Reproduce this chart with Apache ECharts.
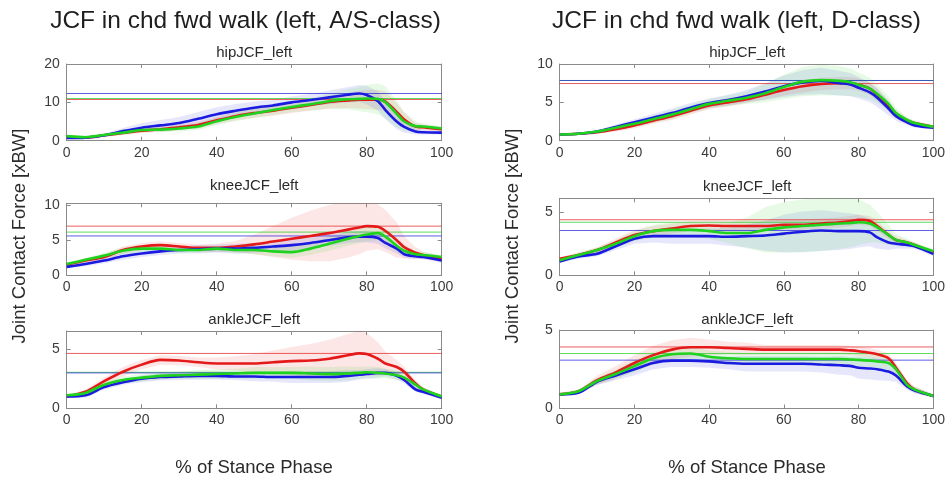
<!DOCTYPE html>
<html>
<head>
<meta charset="utf-8">
<script src="https://cdn.jsdelivr.net/npm/echarts@6/dist/echarts.min.js"></script>
<style>html,body{margin:0;padding:0;background:#fff}#c{width:948px;height:477px}</style>
</head>
<body>
<div id="c"></div>
<script>
// ---- DATA ----
const X = [0,5,10,15,20,25,30,35,40,45,50,55,60,65,70,75,78,80,83,85,88,90,93,95,100];
const xTicks = [0,20,40,60,80,100];
const mainTitles = ['JCF in chd fwd walk (left, A/S-class)', 'JCF in chd fwd walk (left, D-class)'];
const panelTitles = ['hipJCF_left','hipJCF_left','kneeJCF_left','kneeJCF_left','ankleJCF_left','ankleJCF_left'];
const xLabel = '% of Stance Phase';
const yLabel = 'Joint Contact Force [xBW]';
const yMax = [20, 10, 10.25, 6.1, 6.55, 5];
const yStep = [10, 5, 5, 5, 5, 5];

// hip, A/S-class
const hipAS_red   = [1.0,0.8,1.4,2.0,2.6,3.0,3.5,4.1,5.3,6.4,7.2,7.8,8.6,9.3,10.1,10.5,10.7,10.7,10.7,10.2,7.5,5.5,3.7,3.5,3.0];
const hipAS_green = [1.2,0.9,1.5,2.1,2.8,2.9,3.2,3.7,5.1,6.2,7.1,8.0,8.8,9.5,10.3,10.8,10.9,11.0,10.9,10.0,7.0,5.0,3.8,3.7,3.2];
const hipAS_blue  = [0.7,0.8,1.4,2.5,3.4,4.0,4.6,5.7,6.9,7.8,8.6,9.2,10.0,10.6,11.3,12.0,12.3,11.9,10.3,8.0,5.0,3.6,2.4,2.2,2.1];
const hipAS_redSD   = [0.3,0.3,0.4,0.5,0.6,0.7,0.8,0.9,1.0,1.1,1.2,1.3,1.4,1.5,1.7,2.0,2.3,2.5,2.6,2.6,2.3,1.8,1.0,0.8,0.6];
const hipAS_greenSD = [0.3,0.3,0.4,0.5,0.6,0.7,0.8,0.9,1.0,1.1,1.2,1.3,1.4,1.6,2.0,2.6,3.2,3.6,4.0,4.2,3.5,2.5,1.2,0.8,0.6];
const hipAS_blueSD  = [0.3,0.3,0.5,0.8,1.2,1.4,1.6,1.8,1.8,1.8,1.6,1.5,1.5,1.6,1.8,2.0,2.2,2.4,2.5,2.4,2.0,1.5,0.8,0.6,0.5];
const hipAS_peaks = [10.75, 11.0, 12.3]; // red, green, blue

// hip, D-class
const hipD_red   = [0.8,0.9,1.1,1.5,2.0,2.6,3.2,3.9,4.6,5.0,5.4,6.0,6.6,7.1,7.4,7.5,7.5,7.3,6.8,6.0,4.6,3.5,2.6,2.3,1.8];
const hipD_green = [0.8,0.9,1.2,1.7,2.2,2.8,3.4,4.1,4.8,5.2,5.6,6.2,7.0,7.7,7.9,7.8,7.6,7.3,6.8,6.1,4.8,3.6,2.7,2.3,1.8];
const hipD_blue  = [0.8,0.9,1.2,1.8,2.4,3.0,3.6,4.3,4.9,5.3,5.8,6.4,7.1,7.6,7.8,7.5,7.3,6.9,6.3,5.6,4.2,3.2,2.4,2.0,1.7];
const hipD_redSD   = [0.1,0.1,0.2,0.3,0.4,0.4,0.5,0.5,0.5,0.5,0.5,0.6,0.7,0.8,0.8,0.8,0.8,0.8,0.8,0.8,0.7,0.5,0.4,0.3,0.2];
const hipD_greenSD = [0.1,0.1,0.2,0.3,0.4,0.5,0.6,0.6,0.6,0.7,0.8,1.2,1.6,1.9,2.0,1.9,1.8,1.6,1.4,1.2,1.0,0.7,0.4,0.3,0.2];
const hipD_blueSD  = [0.1,0.1,0.2,0.3,0.4,0.5,0.6,0.6,0.6,0.7,0.8,1.1,1.4,1.6,1.7,1.6,1.5,1.4,1.3,1.2,0.9,0.6,0.4,0.3,0.2];
const hipD_peaks = [7.45, 7.85, 7.85];

// knee, A/S-class
const kneeAS_red   = [1.5,2.1,2.6,3.6,4.1,4.3,4.1,3.9,3.9,4.1,4.4,4.8,5.2,5.6,6.0,6.5,6.8,7.0,6.9,6.3,5.0,4.0,3.2,2.9,2.3];
const kneeAS_green = [1.6,2.2,2.8,3.5,3.8,3.8,3.6,3.6,3.8,3.6,3.6,3.4,3.3,3.8,4.5,5.2,5.6,5.8,6.0,5.5,4.2,3.5,3.0,2.9,2.6];
const kneeAS_blue  = [1.2,1.6,2.1,2.7,3.1,3.4,3.6,3.7,3.8,3.8,3.9,4.1,4.3,4.6,5.0,5.4,5.5,5.5,5.3,4.6,3.8,3.0,2.7,2.6,2.1];
const kneeAS_redSD   = [0.2,0.3,0.4,0.5,0.5,0.5,0.5,0.5,0.6,0.8,1.4,2.2,3.0,3.6,4.0,4.0,3.8,3.5,3.2,3.0,2.5,1.6,0.8,0.5,0.4];
const kneeAS_greenSD = [0.2,0.3,0.4,0.5,0.5,0.5,0.4,0.4,0.4,0.5,0.6,0.7,0.8,0.9,1.0,1.0,1.0,1.0,1.0,1.0,0.8,0.6,0.5,0.4,0.3];
const kneeAS_blueSD  = [0.2,0.3,0.4,0.5,0.5,0.5,0.5,0.6,0.6,0.7,0.7,0.7,0.8,0.8,0.8,0.8,0.8,0.8,0.8,0.8,0.7,0.5,0.4,0.3,0.3];
const kneeAS_peaks = [7.0, 6.15, 5.6];

// knee, D-class
const kneeD_red   = [1.3,1.6,2.0,2.6,3.2,3.5,3.7,3.9,3.95,3.9,3.9,3.9,4.0,4.0,4.1,4.2,4.3,4.4,4.3,3.9,3.2,2.8,2.6,2.4,1.8];
const kneeD_green = [1.2,1.6,2.0,2.5,3.1,3.5,3.6,3.6,3.5,3.35,3.35,3.6,3.8,3.9,4.0,4.1,4.15,4.2,4.1,3.8,3.2,2.8,2.6,2.4,1.9];
const kneeD_blue  = [1.1,1.5,1.7,2.3,2.9,3.1,3.1,3.1,3.1,3.05,3.1,3.15,3.3,3.45,3.55,3.5,3.5,3.5,3.4,3.0,2.6,2.5,2.4,2.3,1.7];
const kneeD_redSD   = [0.1,0.2,0.2,0.3,0.4,0.4,0.4,0.4,0.4,0.4,0.4,0.4,0.4,0.4,0.4,0.4,0.4,0.4,0.4,0.4,0.3,0.3,0.2,0.2,0.2];
const kneeD_greenSD = [0.1,0.2,0.2,0.3,0.4,0.5,0.6,0.6,0.6,0.8,1.2,1.8,2.0,2.1,2.1,2.0,1.9,1.8,1.5,1.2,0.8,0.5,0.3,0.2,0.2];
const kneeD_blueSD  = [0.1,0.2,0.2,0.3,0.4,0.5,0.6,0.6,0.6,0.7,0.9,1.2,1.5,1.6,1.6,1.5,1.4,1.3,1.1,0.9,0.6,0.4,0.3,0.2,0.2];
const kneeD_peaks = [4.4, 4.2, 3.55];

// ankle, A/S-class
const ankleAS_red   = [1.0,1.4,2.3,3.1,3.7,4.1,4.05,3.9,3.8,3.8,3.8,3.9,4.0,4.05,4.2,4.5,4.65,4.6,4.2,3.8,3.5,3.1,2.1,1.6,1.0];
const ankleAS_green = [1.1,1.3,2.0,2.4,2.6,2.75,2.8,2.85,2.9,2.95,3.0,3.0,3.0,2.95,2.9,2.95,3.0,3.05,3.0,2.95,2.8,2.6,2.0,1.6,1.0];
const ankleAS_blue  = [1.0,1.1,1.8,2.2,2.5,2.65,2.7,2.75,2.75,2.7,2.7,2.65,2.65,2.65,2.65,2.75,2.85,2.9,3.0,3.0,2.75,2.4,1.6,1.4,0.9];
const ankleAS_redSD   = [0.1,0.2,0.3,0.4,0.4,0.4,0.4,0.4,0.5,0.6,0.8,1.0,1.2,1.4,1.6,1.8,1.9,1.8,1.4,1.0,0.6,0.4,0.3,0.2,0.1];
const ankleAS_greenSD = [0.1,0.2,0.2,0.3,0.3,0.3,0.3,0.4,0.4,0.4,0.5,0.5,0.5,0.6,0.6,0.6,0.5,0.5,0.5,0.4,0.4,0.3,0.3,0.2,0.1];
const ankleAS_blueSD  = [0.1,0.2,0.2,0.2,0.3,0.3,0.3,0.3,0.3,0.3,0.4,0.4,0.5,0.5,0.5,0.5,0.4,0.4,0.4,0.3,0.3,0.3,0.2,0.2,0.1];
const ankleAS_peaks = [4.65, 3.05, 3.0];

// ankle, D-class
const ankleD_red   = [0.9,1.1,1.8,2.3,2.9,3.4,3.75,3.9,3.9,3.85,3.8,3.75,3.75,3.75,3.75,3.75,3.7,3.65,3.55,3.45,3.2,2.6,1.6,1.2,0.8];
const ankleD_green = [0.9,1.1,1.75,2.2,2.7,3.2,3.45,3.5,3.3,3.2,3.15,3.15,3.15,3.15,3.15,3.15,3.12,3.1,3.05,3.0,2.9,2.5,1.5,1.2,0.8];
const ankleD_blue  = [0.9,1.0,1.7,2.1,2.5,2.9,3.05,3.05,3.0,2.9,2.85,2.85,2.85,2.85,2.8,2.75,2.7,2.6,2.55,2.5,2.35,2.1,1.4,1.15,0.8];
const ankleD_redSD   = [0.1,0.1,0.3,0.4,0.5,0.6,0.6,0.6,0.5,0.4,0.4,0.3,0.3,0.3,0.3,0.3,0.3,0.3,0.3,0.3,0.3,0.3,0.2,0.2,0.1];
const ankleD_greenSD = [0.1,0.1,0.2,0.3,0.4,0.4,0.4,0.4,0.4,0.4,0.4,0.4,0.4,0.4,0.4,0.4,0.4,0.4,0.4,0.4,0.4,0.3,0.2,0.2,0.1];
const ankleD_blueSD  = [0.1,0.1,0.2,0.3,0.4,0.4,0.4,0.4,0.4,0.4,0.5,0.5,0.5,0.5,0.5,0.6,0.6,0.7,0.7,0.7,0.6,0.4,0.2,0.2,0.1];
const ankleD_peaks = [3.92, 3.5, 3.08];

// ---- LAYOUT / STYLE ----
const FONT = "'Liberation Sans', Arial, sans-serif";
const COL = { red: '#e41a1a', green: '#1ed21e', blue: '#1a1ae0' };
const BAND = { red: 'rgba(240,60,60,0.13)', green: 'rgba(60,220,60,0.13)', blue: 'rgba(60,60,230,0.12)' };
const HLINE = { red: 'rgba(230,40,40,0.75)', green: 'rgba(40,210,40,0.75)', blue: 'rgba(40,40,220,0.75)' };
const grids = [
  { left: 66.7, top: 64, width: 375, height: 76.7 },
  { left: 559.7, top: 64, width: 375, height: 76.7 },
  { left: 66.7, top: 203.3, width: 375, height: 72 },
  { left: 559.7, top: 198.3, width: 375, height: 77 },
  { left: 66.7, top: 331, width: 375, height: 77.3 },
  { left: 559.7, top: 330, width: 375, height: 78.5 }
];
const titleY = [53, 53, 185.5, 186.5, 319.5, 319.5];

const panels = [
  { r: hipAS_red, g: hipAS_green, b: hipAS_blue, rs: hipAS_redSD, gs: hipAS_greenSD, bs: hipAS_blueSD, pk: hipAS_peaks },
  { r: hipD_red, g: hipD_green, b: hipD_blue, rs: hipD_redSD, gs: hipD_greenSD, bs: hipD_blueSD, pk: hipD_peaks },
  { r: kneeAS_red, g: kneeAS_green, b: kneeAS_blue, rs: kneeAS_redSD, gs: kneeAS_greenSD, bs: kneeAS_blueSD, pk: kneeAS_peaks },
  { r: kneeD_red, g: kneeD_green, b: kneeD_blue, rs: kneeD_redSD, gs: kneeD_greenSD, bs: kneeD_blueSD, pk: kneeD_peaks },
  { r: ankleAS_red, g: ankleAS_green, b: ankleAS_blue, rs: ankleAS_redSD, gs: ankleAS_greenSD, bs: ankleAS_blueSD, pk: ankleAS_peaks },
  { r: ankleD_red, g: ankleD_green, b: ankleD_blue, rs: ankleD_redSD, gs: ankleD_greenSD, bs: ankleD_blueSD, pk: ankleD_peaks }
];

const AXC = '#8a8a8a';
const LABC = '#3c3c3c';

const xAxes = [], yAxes = [], series = [];
panels.forEach((p, k) => {
  const base = {
    type: 'value', gridIndex: k, min: 0, max: 100, interval: 20,
    axisLine: { show: true, onZero: false, lineStyle: { color: AXC, width: 1 } },
    axisTick: { show: true, inside: true, length: 4, lineStyle: { color: AXC } },
    splitLine: { show: false }
  };
  xAxes.push(Object.assign({}, base, { position: 'bottom',
    axisLabel: { show: true, color: LABC, fontSize: 14, fontFamily: FONT, margin: 5 } }));
  xAxes.push(Object.assign({}, base, { position: 'top', axisLabel: { show: false } }));
  const step = yStep[k];
  const ybase = {
    type: 'value', gridIndex: k, min: 0, max: yMax[k], interval: step,
    axisLine: { show: true, onZero: false, lineStyle: { color: AXC, width: 1 } },
    axisTick: { show: true, inside: true, length: 4, lineStyle: { color: AXC } },
    splitLine: { show: false }
  };
  yAxes.push(Object.assign({}, ybase, { position: 'left',
    axisLabel: { show: true, color: LABC, fontSize: 14, fontFamily: FONT, margin: 7,
      formatter: v => (Math.abs(v / step - Math.round(v / step)) < 1e-6 ? String(v) : '') } }));
  yAxes.push(Object.assign({}, ybase, { position: 'right', axisLabel: { show: false } }));

  const sets = [['red', p.r, p.rs], ['blue', p.b, p.bs], ['green', p.g, p.gs]];
  // bands
  sets.forEach(([c, m, sd]) => {
    series.push({
      type: 'custom', xAxisIndex: 2 * k, yAxisIndex: 2 * k, silent: true, clip: true, z: 1,
      data: X.map((x, i) => [x, m[i] - sd[i], m[i] + sd[i]]),
      encode: { x: 0, y: [1, 2] },
      renderItem: (params, api) => {
        if (params.dataIndexInside !== 0) return null;
        const n = params.dataInsideLength;
        const up = [], lo = [];
        for (let j = 0; j < n; j++) {
          const xv = api.value(0, j);
          lo.push(api.coord([xv, api.value(1, j)]));
          up.push(api.coord([xv, api.value(2, j)]));
        }
        const pts = lo.concat(up.reverse());
        return { type: 'polygon', shape: { points: pts }, style: { fill: BAND[c], stroke: null } };
      }
    });
  });
  // peak lines
  const pkc = [['red', p.pk[0]], ['green', p.pk[1]], ['blue', p.pk[2]]];
  pkc.forEach(([c, v]) => {
    series.push({
      type: 'line', xAxisIndex: 2 * k, yAxisIndex: 2 * k, silent: true, z: 2,
      data: [[0, v], [100, v]], showSymbol: false, symbol: 'none',
      lineStyle: { color: HLINE[c], width: 1 }
    });
  });
  // mean curves
  sets.forEach(([c, m]) => {
    series.push({
      type: 'line', xAxisIndex: 2 * k, yAxisIndex: 2 * k, silent: true, z: 3,
      data: X.map((x, i) => [x, m[i]]), showSymbol: false, symbol: 'none', smooth: 0.3,
      lineStyle: { color: COL[c], width: 2.6 }
    });
  });
});

const graphics = [];
[245.5, 736.5].forEach((cx, i) => {
  graphics.push({ type: 'text', x: cx, y: 21, silent: true,
    style: { text: mainTitles[i], font: '24.5px ' + FONT, fill: '#1e1e1e', textAlign: 'center', textVerticalAlign: 'middle' } });
});
grids.forEach((g, k) => {
  graphics.push({ type: 'text', x: g.left + g.width / 2, y: titleY[k], silent: true,
    style: { text: panelTitles[k], font: '15px ' + FONT, fill: '#2a2a2a', textAlign: 'center', textVerticalAlign: 'middle' } });
});
[254, 747].forEach(cx => {
  graphics.push({ type: 'text', x: cx, y: 468, silent: true,
    style: { text: xLabel, font: '18.5px ' + FONT, fill: '#2a2a2a', textAlign: 'center', textVerticalAlign: 'middle' } });
});
[20, 513].forEach(cx => {
  graphics.push({ type: 'text', x: cx, y: 236, rotation: Math.PI / 2, silent: true,
    style: { text: yLabel, font: '18.5px ' + FONT, fill: '#2a2a2a', textAlign: 'center', textVerticalAlign: 'middle' } });
});

const chart = echarts.init(document.getElementById('c'), null, { renderer: 'canvas' });
chart.setOption({
  animation: false,
  backgroundColor: '#ffffff',
  grid: grids.map(g => Object.assign({ containLabel: false }, g)),
  xAxis: xAxes,
  yAxis: yAxes,
  series: series,
  graphic: graphics
});
</script>
</body>
</html>
